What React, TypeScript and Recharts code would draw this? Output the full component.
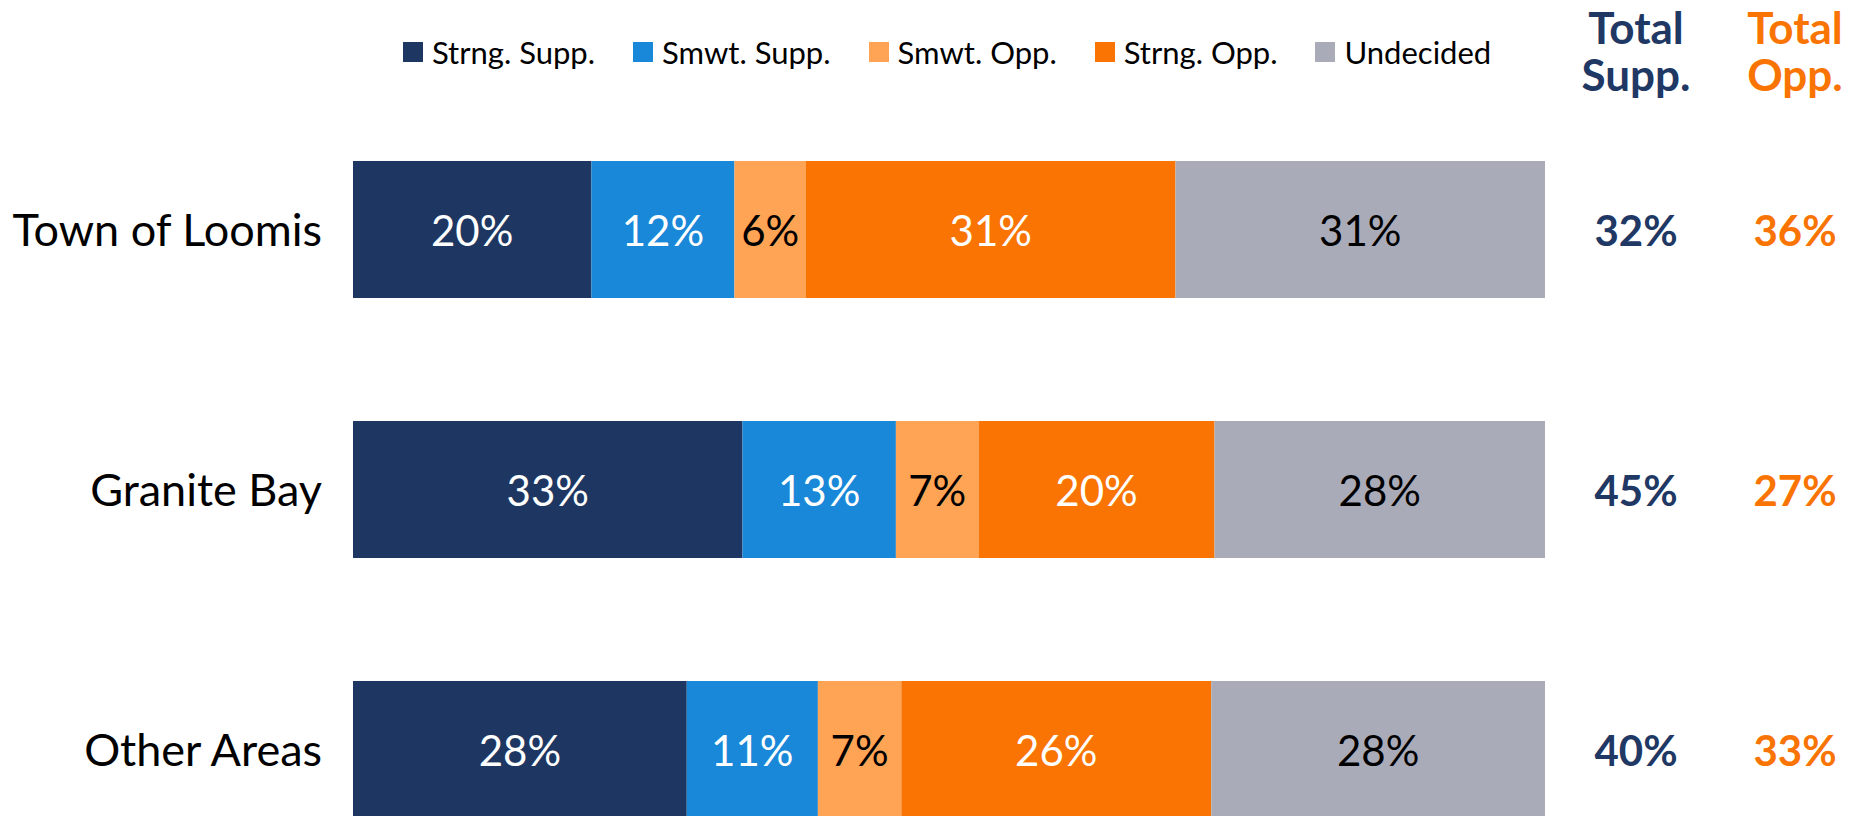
import React from 'react';
import { BarChart, Bar, XAxis, YAxis, Legend, LabelList } from 'recharts';

const CATEGORIES = ['Town of Loomis', 'Granite Bay', 'Other Areas'];
const STRONG_SUPP = [20, 33, 28];
const SMWT_SUPP = [12, 13, 11];
const SMWT_OPP = [6, 7, 7];
const STRONG_OPP = [31, 20, 26];
const UNDECIDED = [31, 28, 28];
const TOTAL_SUPP = [32, 45, 40];
const TOTAL_OPP = [36, 27, 33];

const SERIES = [
    { key: 'strongSupp', name: 'Strng. Supp.', values: STRONG_SUPP, fill: '#1E3762', text: '#FFFFFF' },
    { key: 'smwtSupp', name: 'Smwt. Supp.', values: SMWT_SUPP, fill: '#1A88D8', text: '#FFFFFF' },
    { key: 'smwtOpp', name: 'Smwt. Opp.', values: SMWT_OPP, fill: '#FFA354', text: '#000000' },
    { key: 'strongOpp', name: 'Strng. Opp.', values: STRONG_OPP, fill: '#F97402', text: '#FFFFFF' },
    { key: 'undecided', name: 'Undecided', values: UNDECIDED, fill: '#AAABB8', text: '#000000' },
];

const NAVY = '#1F3864';
const ORANGE = '#F97402';
const FONT = 'Lato, "Noto Sans", sans-serif';

const data = CATEGORIES.map((name, i) => {
    const row: any = { name };
    SERIES.forEach(s => { row[s.key] = s.values[i]; });
    return row;
});

const CategoryTick = ({ x, y, payload }: any) => (
    <text x={x} y={y} textAnchor="end" dominantBaseline="central" fontSize={45} fontFamily={FONT} fill="#000">
        {payload.value}
    </text>
);

const segmentLabel = (values: number[], color: string) => (props: any) => {
    const { x, y, width, height, index } = props;
    return (
        <text x={x + width / 2} y={y + height / 2} textAnchor="middle" dominantBaseline="central"
            fontSize={42} fontFamily={FONT} fill={color}>
            {values[index]}%
        </text>
    );
};

// total columns sit to the right of the last segment
const totalsLabel = (props: any) => {
    const { x, y, width, height, index } = props;
    const cy = y + height / 2;
    const end = x + width;
    return (
        <g>
            <text x={end + 91} y={cy} textAnchor="middle" dominantBaseline="central" fontSize={42}
                fontWeight={700} fontFamily={FONT} fill={NAVY}>{TOTAL_SUPP[index]}%</text>
            <text x={end + 250} y={cy} textAnchor="middle" dominantBaseline="central" fontSize={42}
                fontWeight={700} fontFamily={FONT} fill={ORANGE}>{TOTAL_OPP[index]}%</text>
        </g>
    );
};

const LegendContent = () => (
    <div style={{ position: 'relative', width: 1856, height: 100, fontFamily: FONT }}>
        <div style={{ position: 'absolute', left: 403, top: 32, display: 'flex', alignItems: 'center', gap: 38 }}>
            {SERIES.map(s => (
                <div key={s.key} style={{ display: 'flex', alignItems: 'center', gap: 9 }}>
                    <div style={{ width: 20, height: 20, backgroundColor: s.fill }} />
                    <span style={{ fontSize: 31, lineHeight: '40px', color: '#000' }}>{s.name}</span>
                </div>
            ))}
        </div>
        {[{ c: NAVY, l: 'Supp.', x: 1636 }, { c: ORANGE, l: 'Opp.', x: 1795 }].map(h => (
            <div key={h.l} style={{ position: 'absolute', left: h.x - 100, width: 200, top: 4, textAlign: 'center',
                color: h.c, fontWeight: 700, fontSize: 44, lineHeight: '47px' }}>
                Total<br />{h.l}
            </div>
        ))}
    </div>
);

export default function App() {
    return (
        <div style={{ position: 'absolute', left: 0, top: 0, width: 1856, height: 816, overflow: 'hidden', background: '#fff' }}>
            <BarChart width={1856} height={900} data={data} layout="vertical" stackOffset="expand"
                margin={{ top: 99, right: 311, bottom: 21, left: 0 }} barSize={137}>
                <XAxis type="number" hide domain={[0, 1]} />
                <YAxis type="category" dataKey="name" width={353} axisLine={false} tickLine={false}
                    tickSize={0} tickMargin={31} tick={<CategoryTick />} />
                <Legend verticalAlign="middle" align="center" content={<LegendContent />}
                    wrapperStyle={{ top: 0, left: 0, width: 1856, height: 100 }} />
                {SERIES.map((s, si) => (
                    <Bar key={s.key} dataKey={s.key} name={s.name} stackId="a" fill={s.fill} isAnimationActive={false}>
                        <LabelList dataKey={s.key} content={segmentLabel(s.values, s.text)} />
                        {si === SERIES.length - 1 && <LabelList dataKey={s.key} content={totalsLabel} />}
                    </Bar>
                ))}
            </BarChart>
        </div>
    );
}
